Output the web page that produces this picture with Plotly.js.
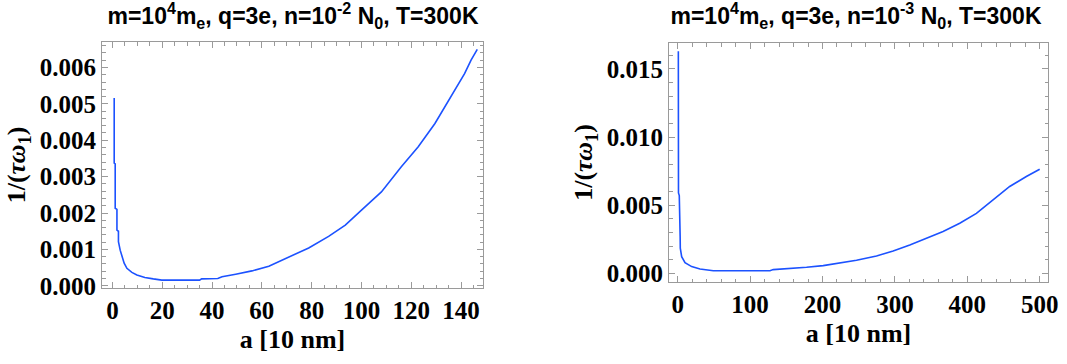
<!DOCTYPE html>
<html>
<head>
<meta charset="utf-8">
<script src="https://cdn.plot.ly/plotly-3.0.1.min.js"></script>
<style>
html,body{margin:0;padding:0;background:#fff;}
.c{position:absolute;top:0;height:364px;}
.js-plotly-plot .xtick text, .js-plotly-plot .ytick text,
.js-plotly-plot text.xtitle, .js-plotly-plot text.ytitle,
.js-plotly-plot text.xtitle tspan, .js-plotly-plot text.ytitle tspan {
  font-family: 'Liberation Serif', 'Times New Roman', serif !important;
}
.js-plotly-plot text.gtitle, .js-plotly-plot text.gtitle tspan {
  font-family: 'Liberation Sans', Arial, sans-serif !important;
}
</style>
</head>
<body>
<div id="L" class="c" style="left:0;width:534px"></div>
<div id="R" class="c" style="left:534px;width:533px"></div>
<script>
// Left panel: n = 10^-2 N0
const aLeft = [0.7, 0.7, 1.1, 1.1, 1.8, 1.8, 2.4, 2.4, 3.1, 3.8, 4.7, 5.8, 7.8, 9.8, 13, 16.4, 19.8, 35, 35.8, 42.3, 44, 49.5, 56, 62.8, 70.8, 78.8, 86.8, 93.5, 100, 108, 116, 122.8, 129.5, 137.4, 141.4, 144, 146.5];
const yLeft = [0.00516, 0.00337, 0.00335, 0.00213, 0.0021, 0.00153, 0.0015, 0.00121, 0.00098, 0.0008, 0.00062, 0.00048, 0.00037, 0.0003, 0.00023, 0.00019, 0.000157, 0.000157, 0.00019, 0.0002, 0.00025, 0.00032, 0.00041, 0.00054, 0.00078, 0.00104, 0.00136, 0.00167, 0.00208, 0.00258, 0.00327, 0.00382, 0.00446, 0.00538, 0.00583, 0.0062, 0.0065];

// Right panel: n = 10^-3 N0
const aRight = [0.9, 1.1, 2.2, 2.4, 3.4, 3.6, 5.5, 10.1, 19.3, 30.8, 49.2, 86, 127.4, 132, 159.6, 178, 201, 224, 247, 274.6, 297.6, 320.6, 343.6, 366.6, 389.6, 412.6, 435.6, 458.6, 481.6, 500];
const yRight = [0.0163, 0.0059, 0.0057, 0.0028, 0.0027, 0.00184, 0.00122, 0.00078, 0.00049, 0.00032, 0.00019, 0.00019, 0.00019, 0.00027, 0.00034, 0.00044, 0.00056, 0.00073, 0.00095, 0.00127, 0.00164, 0.00208, 0.00257, 0.00306, 0.00367, 0.0044, 0.00539, 0.00637, 0.0071, 0.00764];

const titleLeft = "m=10<sup>4</sup>m<sub>e</sub>, q=3e, n=10<sup>-2</sup> N<sub>0</sub>, T=300K";
const titleRight = "m=10<sup>4</sup>m<sub>e</sub>, q=3e, n=10<sup>-3</sup> N<sub>0</sub>, T=300K";
const xLabel = "a [10 nm]";
const yLabel = "1/(<i>τω</i><sub>1</sub>)";

const lineColor = "rgb(28,82,255)";
const frameColor = "#9a9a9a";
const TF = {family: "Liberation Serif", size: 25, color: "#000", weight: 700};
const AF = {family: "Liberation Serif", size: 26, color: "#000", weight: 700};
const HF = {family: "Liberation Sans", size: 23, color: "#000", weight: 700};

function ax(extra) {
  return Object.assign({
    showline: true, linecolor: frameColor, linewidth: 1, mirror: "allticks",
    ticks: "inside", ticklen: 6, tickwidth: 1, tickcolor: frameColor,
    showgrid: false, zeroline: false, tickfont: TF, fixedrange: true, tickmode: "linear", tick0: 0
  }, extra);
}

function panel(div, w, m, xs, ys, xa, ya, title, titleX) {
  const layout = {
    width: w, height: 364, margin: m, showlegend: false,
    font: {family: "Liberation Serif"},
    title: {text: title, font: HF, x: titleX / w, xref: "container", xanchor: "center", y: 1 - 16 / 364, yref: "container", yanchor: "middle"},
    xaxis: xa, yaxis: ya
  };
  Plotly.newPlot(div, [{x: xs, y: ys, type: "scatter", mode: "lines", line: {color: lineColor, width: 1.6}}], layout, {staticPlot: true, displayModeBar: false});
}

panel("L", 534, {l: 102, r: 534 - 483, t: 42, b: 364 - 288}, aLeft, yLeft,
  ax({range: [-4.2, 148.8], dtick: 20, minor: {ticks: "inside", ticklen: 3.5, dtick: 5, tickcolor: frameColor},
      title: {text: xLabel, font: AF, standoff: 6}}),
  ax({range: [-0.00006, 0.0067], dtick: 0.001, tickformat: ".3f", minor: {ticks: "inside", ticklen: 3.5, dtick: 0.0002, tickcolor: frameColor},
      title: {text: yLabel, font: AF, standoff: 6}}),
  titleLeft, 293);

panel("R", 533, {l: 669 - 534, r: 1067 - 1048, t: 43, b: 364 - 282}, aRight, yRight,
  ax({range: [-12, 511.5], dtick: 100, minor: {ticks: "inside", ticklen: 3.5, dtick: 20, tickcolor: frameColor},
      title: {text: xLabel, font: AF, standoff: 6}}),
  ax({range: [-0.00064, 0.0169], dtick: 0.005, tickformat: ".3f", minor: {ticks: "inside", ticklen: 3.5, dtick: 0.001, tickcolor: frameColor},
      title: {text: yLabel, font: AF, standoff: 6}}),
  titleRight, 856 - 534);
</script>
</body>
</html>
